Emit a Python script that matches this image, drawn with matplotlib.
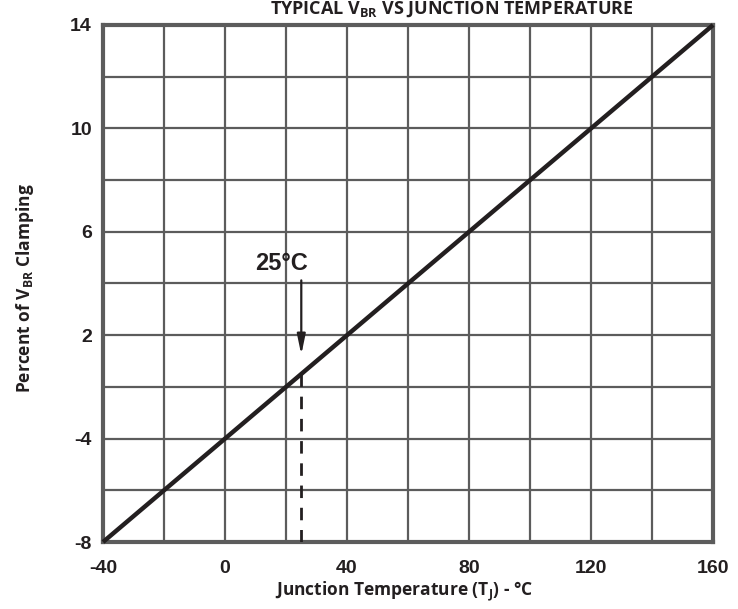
import numpy as np
import matplotlib.pyplot as plt

plt.rcParams['font.family'] = ['Open Sans', 'DejaVu Sans']
plt.rcParams['mathtext.fontset'] = 'custom'
plt.rcParams['mathtext.bf'] = 'Open Sans:bold'
plt.rcParams['mathtext.rm'] = 'Open Sans:bold'
plt.rcParams['axes.unicode_minus'] = False

# data
temps = [-40, 160]
percent = [-8, 14]
x_ticks = [-40, 0, 40, 80, 120, 160]
y_tick_labels = ['-8', '-4', '2', '6', '10', '14']
marker_temp = 25

grid_col = '#5c5c5c'
line_col = '#231f20'

fig = plt.figure(figsize=(7.38, 6.09), dpi=100)
ax = fig.add_axes([0.1396, 0.110, 0.8266, 0.849])

ax.set_xlim(-40, 160)
ax.set_ylim(-8, 14)

# grid: 10 divisions each way
ax.set_xticks(x_ticks)
ax.set_xticklabels([str(t) for t in x_ticks])
ax.set_xticks(np.linspace(-40, 160, 11), minor=True)
ax.set_yticks(np.linspace(-8, 14, 6))
ax.set_yticklabels(y_tick_labels)
ax.set_yticks(np.linspace(-8, 14, 11), minor=True)
ax.grid(True, which='both', color=grid_col, lw=1.6)
ax.tick_params(which='both', length=0)
ax.tick_params(axis='x', pad=13)
ax.tick_params(axis='y', pad=8)
for lab in ax.get_xticklabels() + ax.get_yticklabels():
    lab.set_fontweight('bold')
    lab.set_fontsize(14)
    lab.set_family('Liberation Sans')
    lab.set_color(line_col)
for sp in ax.spines.values():
    sp.set_color(grid_col)
    sp.set_linewidth(3)

ax.plot(temps, percent, color=line_col, lw=3.2, solid_capstyle='butt',
        clip_on=False, zorder=5)

# 25 C marker
y_at = np.interp(marker_temp, temps, percent)
ax.plot([marker_temp, marker_temp], [-8, y_at], color=line_col, lw=2,
        ls=(0, (4.5, 3.5)), zorder=4)
ax.annotate('', xy=(marker_temp, y_at + 0.7), xytext=(marker_temp, y_at + 4.1),
            arrowprops=dict(arrowstyle='-|>,head_width=0.25,head_length=1.2',
                            color=line_col, lw=1.6))
ax.text(marker_temp - 6.5, y_at + 4.7, '25°C', ha='center', va='center',
        fontsize=17, fontweight='bold', family='Liberation Sans', color=line_col)

ax.set_xlabel('Junction Temperature (T$_{\\mathbf{J}}$) - °C', fontsize=12.5,
              fontweight='bold', color=line_col, va='center')
ax.xaxis.set_label_coords(0.493, -0.096)
ax.set_ylabel('Percent of V$_{\\mathbf{BR}}$ Clamping', fontsize=12.5,
              fontweight='bold', color=line_col, va='center')
ax.yaxis.set_label_coords(-0.128, 0.491)

fig.text(0.612, 0.977, 'TYPICAL V$_{\\mathbf{BR}}$ VS JUNCTION TEMPERATURE',
         ha='center', va='baseline', fontsize=13, fontweight='bold',
         color=line_col)

fig.savefig('out.png', dpi=100)
